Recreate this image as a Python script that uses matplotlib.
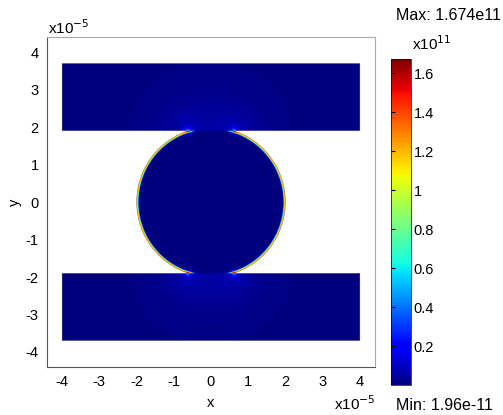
import numpy as np
import matplotlib
matplotlib.use("Agg")
import matplotlib.pyplot as plt

plt.rcParams['font.family'] = ['Liberation Sans', 'DejaVu Sans']

# geometry (units of 1e-5)
circle_r = 2.0
rect_x = [-4.0, 4.0]
rect_top_y = [1.9, 3.7]
rect_bot_y = [-3.7, -1.9]
contacts = [(-0.62, 1.9), (0.62, 1.9), (-0.62, -1.9), (0.62, -1.9)]

# field levels (units of 1e11)
f_min = 1.96e-22
f_max = 1.674
rim_peak = 1.25
rim_width = 0.05
spot_peak = 0.6
spot_width = 0.05
glow_peak = 0.08
glow_width = 0.6

cbar_ticks = [0.2, 0.4, 0.6, 0.8, 1.0, 1.2, 1.4, 1.6]
axis_ticks = [-4, -3, -2, -1, 0, 1, 2, 3, 4]

n = 1000
xs = np.linspace(-4.4, 4.4, n)
ys = np.linspace(-4.4, 4.4, n)
X, Y = np.meshgrid(xs, ys)
R = np.hypot(X, Y)

in_circle = R <= circle_r
in_top = (X >= rect_x[0]) & (X <= rect_x[1]) & (Y >= rect_top_y[0]) & (Y <= rect_top_y[1])
in_bot = (X >= rect_x[0]) & (X <= rect_x[1]) & (Y >= rect_bot_y[0]) & (Y <= rect_bot_y[1])
in_rect = in_top | in_bot
domain = in_circle | in_rect

F = np.full(X.shape, f_min)
free_rim = in_circle & ~in_rect
depth = (circle_r - R[free_rim]) / rim_width
F[free_rim] += rim_peak * np.exp(-depth ** 4)
for cx, cy in contacts:
    d = np.hypot(X - cx, Y - cy)
    F += spot_peak * np.exp(-d / spot_width)
    F[in_rect] += glow_peak * np.exp(-d[in_rect] / glow_width)
F = np.clip(F, f_min, f_max)
F = np.ma.masked_where(~domain, F)

fig = plt.figure(figsize=(5.03, 4.15), dpi=100)
ax = fig.add_axes([0.0934, 0.1157, 0.652, 0.795])
im = ax.imshow(F, origin='lower', extent=[-4.4, 4.4, -4.4, 4.4], cmap='jet',
               vmin=f_min, vmax=f_max, interpolation='antialiased',
               interpolation_stage='rgba', aspect='auto')
ax.set_xlim(-4.4, 4.4)
ax.set_ylim(-4.4, 4.4)
ax.set_xticks(axis_ticks)
ax.set_yticks(axis_ticks)
ax.set_xticklabels([str(t) for t in axis_ticks])
ax.set_yticklabels([str(t) for t in axis_ticks])
ax.tick_params(length=0, labelsize=10.5, pad=6)
for side in ['left', 'bottom']:
    ax.spines[side].set_color('#555555')
for side in ['top', 'right']:
    ax.spines[side].set_color('#aaaaaa')
ax.set_xlabel('x', fontsize=10.5, va='center')
ax.set_ylabel('y', fontsize=10.5, va='center')
ax.xaxis.set_label_coords(0.5, -0.109)
ax.yaxis.set_label_coords(-0.098, 0.5)

fig.text(0.096, 0.918, r'x10$^{-5}$', fontsize=11, ha='left', va='baseline')
fig.text(0.746, 0.013, r'x10$^{-5}$', fontsize=11, ha='right', va='baseline')

cax = fig.add_axes([0.7773, 0.0723, 0.0398, 0.7855])
cb = fig.colorbar(im, cax=cax, ticks=cbar_ticks)
cb.ax.set_yticklabels(['%g' % t for t in cbar_ticks])
cb.ax.tick_params(labelsize=10.5, length=3, direction='in', left=True, right=False, pad=2)
cb.outline.set_linewidth(0.5)

fig.text(0.82, 0.872, r'x10$^{11}$', fontsize=11, ha='left', va='bottom')
fig.text(0.995, 0.952, 'Max: 1.674e11', fontsize=11.5, ha='right', va='baseline')
fig.text(0.98, 0.013, 'Min: 1.96e-11', fontsize=11.5, ha='right', va='baseline')

fig.savefig('out.png', dpi=100)
